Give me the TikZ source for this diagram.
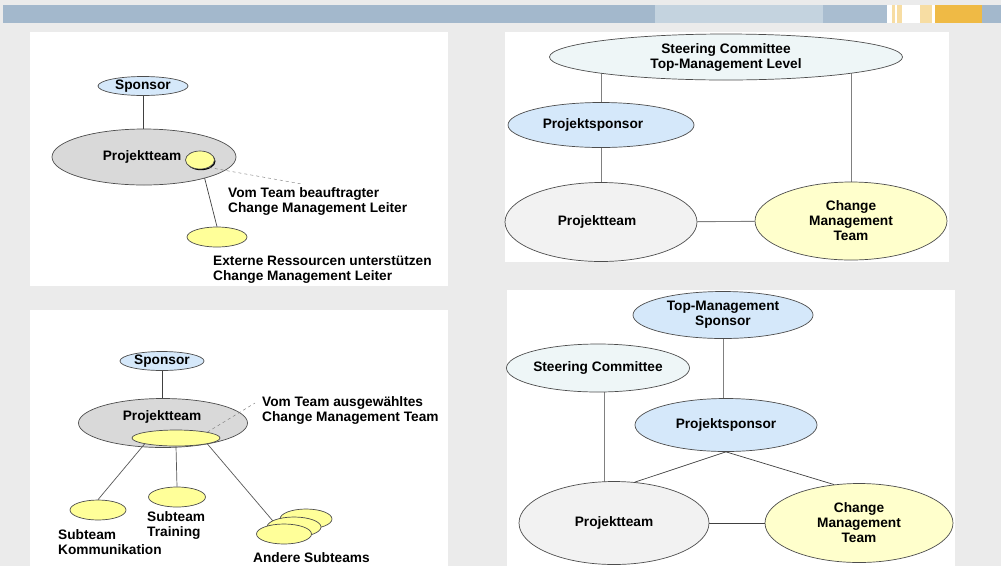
\documentclass[tikz,border=0pt]{standalone}
\usepackage{fontspec}
\setmainfont{Liberation Sans}
\usetikzlibrary{shapes.geometric,backgrounds,shadows}

\definecolor{pageGray}{HTML}{EBEBEB}
\definecolor{barBlue}{HTML}{A3B8CC}
\definecolor{barLight}{HTML}{C4D3DF}
\definecolor{barMid}{HTML}{A9BDD0}
\definecolor{barOrange}{HTML}{EFBA45}
\definecolor{barPale}{HTML}{F7DDA3}
\definecolor{sponsorBlue}{HTML}{D5E8FA}
\definecolor{teamGray}{HTML}{D9D9D9}
\definecolor{teamLight}{HTML}{F2F2F2}
\definecolor{cmYellow}{HTML}{FFFF99}
\definecolor{cmPale}{HTML}{FFFFCC}
\definecolor{steerCyan}{HTML}{EEF6F7}
\definecolor{ovalLine}{HTML}{4D4D4D}
\definecolor{linkGray}{HTML}{808080}

\begin{document}
\begin{tikzpicture}[x=1pt, y=-1pt,
    font=\bfseries\fontsize{13.7}{15}\selectfont,
    oval/.style={ellipse, draw=ovalLine, line width=0.7pt, inner sep=0pt, align=center},
    wh/.style 2 args={minimum width=#1pt, minimum height=#2pt},
    note/.style={anchor=west, align=left, inner sep=0pt},
    link/.style={draw=black!75, line width=0.7pt},
    greylink/.style={draw=linkGray, line width=0.9pt},
    hint/.style={draw=black!55, dashed, line width=0.4pt}]
    \useasboundingbox (0,0) rectangle (1001,566);
    % page, header bar and the four panels
    \begin{scope}[on background layer]
        \fill[pageGray] (0,0) rectangle (1001,566);
        \fill[barBlue] (3,5) rectangle (655,23);
        \fill[barLight] (655,5) rectangle (823,23);
        \fill[barMid] (823,5) rectangle (887,23);
        \fill[white] (887,5) rectangle (935,23);
        \fill[barPale] (892,5) rectangle (895,23);
        \fill[barPale] (897,5) rectangle (902,23);
        \fill[barPale] (920,5) rectangle (932,23);
        \fill[barOrange] (935,5) rectangle (982,23);
        \fill[barBlue] (982,5) rectangle (1001,23);
        \fill[white] (30,32) rectangle (448,286);
        \fill[white] (505,32) rectangle (949,262);
        \fill[white] (30,310) rectangle (448,566);
        \fill[white] (507,290) rectangle (955,566);
    \end{scope}

    % panel 1: leader out of the team
    \node[oval, fill=sponsorBlue, wh={90}{19}] (spA) at (143,86) {Sponsor};
    \node[oval, fill=teamGray, wh={184}{56}] (ptA) at (144,157) {Projektteam\hspace*{4pt}};
    \node[oval, fill=cmYellow, wh={29}{18},
        drop shadow={shadow xshift=1pt, shadow yshift=-1.2pt, fill=black, opacity=1}] (cmlA) at (200,160) {};
    \node[oval, fill=cmYellow, wh={60}{20}] (extA) at (217,237) {};
    \coordinate (cmlNote) at (302,184);
    \node[note] (txtLeiter) at (228,201) {Vom Team beauftragter\\Change Management Leiter};
    \node[note] (txtExtern) at (213,270) {Externe Ressourcen unterstützen\\Change Management Leiter};
    \begin{scope}[on background layer]
        \draw[link] (spA.south) -- (spA.south |- ptA.center);
        \draw[link] (cmlA.center) -- (extA.north);
    \end{scope}
    \draw[hint] (cmlA.-40) -- (cmlNote);

    % panel 2: steering committee on top
    \node[oval, fill=steerCyan, wh={353}{46}] (scB) at (726,57) {Steering Committee\\Top-Management Level};
    \node[oval, fill=sponsorBlue, wh={186}{45}] (pspB) at (601,125) {Projektsponsor\hspace*{16pt}};
    \node[oval, fill=teamLight, wh={192}{79}] (ptB) at (601,222) {Projektteam\hspace*{8pt}};
    \node[oval, fill=cmPale, wh={192}{78}] (cmtB) at (851,221) {Change\\Management\\Team};
    \begin{scope}[on background layer]
        \draw[greylink] (pspB.north) -- (pspB.north |- scB.center);
        \draw[greylink] (pspB.south) -- (ptB.north);
        \draw[greylink] (cmtB.north) -- (cmtB.north |- scB.center);
        \draw[greylink] (ptB) -- (cmtB);
    \end{scope}

    % panel 3: team chosen inside the project team
    \node[oval, fill=sponsorBlue, wh={84}{19}] (spC) at (162,361) {Sponsor};
    \node[oval, fill=teamGray, wh={169}{49}] (ptC) at (163,423) {};
    \node (ptCtext) at (162,417) {Projektteam};
    \node[oval, fill=cmYellow, wh={88}{16}] (cmiC) at (176,438) {};
    \node[oval, fill=cmYellow, wh={56}{20}] (komC) at (98,510) {};
    \node[oval, fill=cmYellow, wh={57}{20}] (trnC) at (177,497) {};
    \node[oval, fill=cmYellow, wh={52}{20}] (oth3C) at (306,519) {};
    \node[oval, fill=cmYellow, wh={54}{20}] (oth2C) at (294,527) {};
    \node[oval, fill=cmYellow, wh={55}{20}] (oth1C) at (284,534) {};
    \coordinate (cmiNote) at (255,403);
    \node[note] (txtAusw) at (262,410) {Vom Team ausgewähltes\\Change Management Team};
    \node[note] (txtKom) at (58,542) {Subteam\\Kommunikation};
    \node[note] (txtTrn) at (147,525.5) {Subteam\\Training};
    \node[note] (txtOth) at (253,558) {Andere Subteams};
    \begin{scope}[on background layer]
        \draw[link] (spC.south) -- (spC.south |- ptC.center);
    \end{scope}
    \draw[link, draw=black!65] (cmiC.south west) -- (komC.north);
    \draw[link, draw=black!65] (cmiC.south) -- (trnC.north);
    \begin{scope}[on background layer]
        \draw[link, draw=black!65] (cmiC.south east) -- (oth1C.center);
    \end{scope}
    \draw[hint] (cmiC.north east) -- (cmiNote);

    % panel 4: top-management sponsor above the project sponsor
    \node[oval, fill=sponsorBlue, wh={180}{47}] (tmsD) at (723,315) {Top-Management\\Sponsor};
    \node[oval, fill=steerCyan, wh={179}{48}] (scD) at (598,368) {Steering Committee};
    \node[oval, fill=sponsorBlue, wh={182}{53}] (pspD) at (726,425) {Projektsponsor};
    \node[oval, fill=teamLight, wh={190}{83}] (ptD) at (614,523) {Projektteam};
    \node[oval, fill=cmPale, wh={188}{79}] (cmtD) at (859,523) {Change\\Management\\Team};
    \begin{scope}[on background layer]
        \draw[greylink] (tmsD.south) -- (tmsD.south |- pspD.center);
        \draw[greylink] ([xshift=6pt]scD.south) -- ([xshift=6pt]scD.south |- ptD.center);
    \end{scope}
    \draw[link] (pspD.south) -- (ptD.63);
    \draw[link] (pspD.south) -- (cmtD.123);
    \draw[link] (ptD) -- (cmtD);
\end{tikzpicture}
\end{document}
